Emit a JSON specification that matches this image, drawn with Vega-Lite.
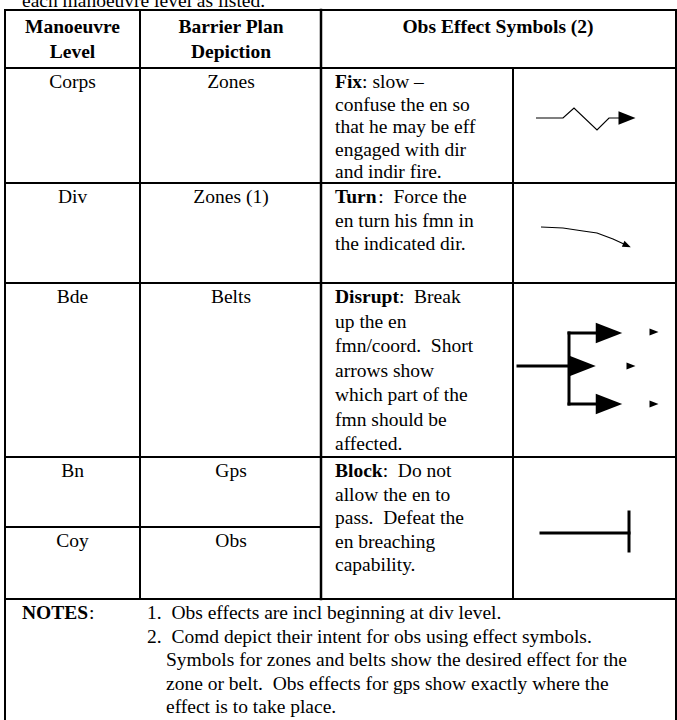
{
  "$schema": "https://vega.github.io/schema/vega-lite/v6.json",
  "width": 677,
  "height": 720,
  "padding": 0,
  "autosize": {"type": "none"},
  "background": "white",
  "config": {"view": {"stroke": null}},
  "datasets": {
    "lines": [
      {"x": 5, "y": 10, "x2": 676, "y2": 10, "kind": "grid"},
      {"x": 5, "y": 68, "x2": 676, "y2": 68, "kind": "grid"},
      {"x": 5, "y": 183, "x2": 676, "y2": 183, "kind": "grid"},
      {"x": 5, "y": 283, "x2": 676, "y2": 283, "kind": "grid"},
      {"x": 5, "y": 457, "x2": 676, "y2": 457, "kind": "grid"},
      {"x": 5, "y": 527, "x2": 321, "y2": 527, "kind": "grid"},
      {"x": 5, "y": 599, "x2": 676, "y2": 599, "kind": "grid"},
      {"x": 5, "y": 10, "x2": 5, "y2": 720, "kind": "grid"},
      {"x": 676, "y": 10, "x2": 676, "y2": 720, "kind": "grid"},
      {"x": 140, "y": 10, "x2": 140, "y2": 599, "kind": "grid"},
      {"x": 321, "y": 10, "x2": 321, "y2": 599, "kind": "heavy"},
      {"x": 513, "y": 68, "x2": 513, "y2": 599, "kind": "grid"},
      {"x": 518, "y": 366, "x2": 570, "y2": 366, "kind": "sym"},
      {"x": 569, "y": 333, "x2": 569, "y2": 404, "kind": "sym"},
      {"x": 569, "y": 333, "x2": 598, "y2": 333, "kind": "sym"},
      {"x": 569, "y": 404, "x2": 598, "y2": 404, "kind": "sym"},
      {"x": 541, "y": 533, "x2": 629, "y2": 533, "kind": "sym"},
      {"x": 629, "y": 512, "x2": 629, "y2": 551, "kind": "sym"}
    ],
    "paths": [
      {"sym": "fix", "i": 0, "x": 536, "y": 118},
      {"sym": "fix", "i": 1, "x": 563, "y": 118},
      {"sym": "fix", "i": 2, "x": 574, "y": 108},
      {"sym": "fix", "i": 3, "x": 597, "y": 130},
      {"sym": "fix", "i": 4, "x": 609, "y": 118},
      {"sym": "fix", "i": 5, "x": 622, "y": 118},
      {"sym": "turn", "i": 0, "x": 541, "y": 227},
      {"sym": "turn", "i": 1, "x": 563, "y": 228},
      {"sym": "turn", "i": 2, "x": 583, "y": 231},
      {"sym": "turn", "i": 3, "x": 597, "y": 233},
      {"sym": "turn", "i": 4, "x": 613, "y": 239},
      {"sym": "turn", "i": 5, "x": 626, "y": 245}
    ],
    "heads": [
      {"x": 627, "y": 118, "kind": "fix", "rot": 0},
      {"x": 627, "y": 245.5, "kind": "turn", "rot": 24},
      {"x": 609, "y": 333, "kind": "big", "rot": 0},
      {"x": 582, "y": 366, "kind": "mid", "rot": 0},
      {"x": 609, "y": 404, "kind": "big", "rot": 0},
      {"x": 654, "y": 332, "kind": "small", "rot": 0},
      {"x": 631, "y": 366, "kind": "small", "rot": 0},
      {"x": 654, "y": 404, "kind": "small", "rot": 0}
    ],
    "texts": [
      {"x": 22, "y": 7, "text": "each manoeuvre level as listed.", "st": "left"},
      {"x": 72.5, "y": 33, "text": "Manoeuvre", "st": "headc"},
      {"x": 72.5, "y": 58, "text": "Level", "st": "headc"},
      {"x": 231, "y": 33, "text": "Barrier Plan", "st": "headc"},
      {"x": 231, "y": 58, "text": "Depiction", "st": "headc"},
      {"x": 498, "y": 33, "text": "Obs Effect Symbols (2)", "st": "headc"},
      {"x": 72.5, "y": 88, "text": "Corps", "st": "center"},
      {"x": 72.5, "y": 203, "text": "Div", "st": "center"},
      {"x": 72.5, "y": 303, "text": "Bde", "st": "center"},
      {"x": 72.5, "y": 477, "text": "Bn", "st": "center"},
      {"x": 72.5, "y": 547, "text": "Coy", "st": "center"},
      {"x": 231, "y": 88, "text": "Zones", "st": "center"},
      {"x": 231, "y": 203, "text": "Zones (1)", "st": "center"},
      {"x": 231, "y": 303, "text": "Belts", "st": "center"},
      {"x": 231, "y": 477, "text": "Gps", "st": "center"},
      {"x": 231, "y": 547, "text": "Obs", "st": "center"},
      {"x": 335, "y": 88, "text": "Fix", "st": "bold"},
      {"x": 362.1, "y": 88, "text": ": slow –", "st": "left"},
      {"x": 335, "y": 110.5, "text": "confuse the en so", "st": "left"},
      {"x": 335, "y": 133, "text": "that he may be eff", "st": "left"},
      {"x": 335, "y": 155.5, "text": "engaged with dir", "st": "left"},
      {"x": 335, "y": 178, "text": "and indir fire.", "st": "left"},
      {"x": 335, "y": 203, "text": "Turn", "st": "bold"},
      {"x": 378.3, "y": 203, "text": ":\u00a0 Force the", "st": "left"},
      {"x": 335, "y": 226.5, "text": "en turn his fmn in", "st": "left"},
      {"x": 335, "y": 250, "text": "the indicated dir.", "st": "left"},
      {"x": 335, "y": 303, "text": "Disrupt", "st": "bold"},
      {"x": 398.9, "y": 303, "text": ":\u00a0 Break", "st": "left"},
      {"x": 335, "y": 327.5, "text": "up the en", "st": "left"},
      {"x": 335, "y": 352, "text": "fmn/coord.\u00a0 Short", "st": "left"},
      {"x": 335, "y": 376.5, "text": "arrows show", "st": "left"},
      {"x": 335, "y": 401, "text": "which part of the", "st": "left"},
      {"x": 335, "y": 425.5, "text": "fmn should be", "st": "left"},
      {"x": 335, "y": 450, "text": "affected.", "st": "left"},
      {"x": 335, "y": 477, "text": "Block", "st": "bold"},
      {"x": 382.7, "y": 477, "text": ":\u00a0 Do not", "st": "left"},
      {"x": 335, "y": 500.5, "text": "allow the en to", "st": "left"},
      {"x": 335, "y": 524, "text": "pass.\u00a0 Defeat the", "st": "left"},
      {"x": 335, "y": 547.5, "text": "en breaching", "st": "left"},
      {"x": 335, "y": 571, "text": "capability.", "st": "left"},
      {"x": 22, "y": 619, "text": "NOTES", "st": "bold"},
      {"x": 89, "y": 619, "text": ":", "st": "left"},
      {"x": 147, "y": 619, "text": "1.\u00a0 Obs effects are incl beginning at div level.", "st": "left"},
      {"x": 147, "y": 643, "text": "2.\u00a0 Comd depict their intent for obs using effect symbols.", "st": "left"},
      {"x": 166, "y": 666, "text": "Symbols for zones and belts show the desired effect for the", "st": "left"},
      {"x": 166, "y": 690, "text": "zone or belt.\u00a0 Obs effects for gps show exactly where the", "st": "left"},
      {"x": 166, "y": 713, "text": "effect is to take place.", "st": "left"}
    ]
  },
  "encoding": {
    "x": {"field": "x", "type": "quantitative", "scale": {"domain": [0, 677], "nice": false, "zero": false}, "axis": null},
    "y": {"field": "y", "type": "quantitative", "scale": {"domain": [0, 720], "nice": false, "zero": false, "reverse": true}, "axis": null}
  },
  "layer": [
    {
      "data": {"name": "lines"},
      "mark": {"type": "rule", "color": "black", "strokeCap": "square"},
      "encoding": {
        "x2": {"field": "x2"},
        "y2": {"field": "y2"},
        "strokeWidth": {"field": "kind", "type": "nominal", "scale": {"domain": ["grid", "heavy", "sym"], "range": [2, 3, 2.5]}, "legend": null}
      }
    },
    {
      "data": {"name": "paths"},
      "mark": {"type": "line", "color": "black", "strokeWidth": 1.2},
      "encoding": {
        "detail": {"field": "sym", "type": "nominal"},
        "order": {"field": "i", "type": "quantitative"}
      }
    },
    {
      "data": {"name": "heads"},
      "transform": [{"filter": "datum.kind === 'fix'"}],
      "mark": {"type": "point", "filled": true, "color": "black", "opacity": 1, "strokeWidth": 0, "size": 290, "shape": "M-1,-0.78L1,0L-1,0.78Z"},
      "encoding": {}
    },
    {
      "data": {"name": "heads"},
      "transform": [{"filter": "datum.kind === 'turn'"}],
      "mark": {"type": "point", "filled": true, "color": "black", "opacity": 1, "strokeWidth": 0, "size": 70, "angle": 24, "shape": "M-1,-0.78L1,0L-1,0.78Z"},
      "encoding": {}
    },
    {
      "data": {"name": "heads"},
      "transform": [{"filter": "datum.kind === 'big'"}],
      "mark": {"type": "point", "filled": true, "color": "black", "opacity": 1, "strokeWidth": 0, "size": 700, "shape": "M-1,-0.78L1,0L-1,0.78Z"},
      "encoding": {}
    },
    {
      "data": {"name": "heads"},
      "transform": [{"filter": "datum.kind === 'mid'"}],
      "mark": {"type": "point", "filled": true, "color": "black", "opacity": 1, "strokeWidth": 0, "size": 760, "shape": "M-1,-0.78L1,0L-1,0.78Z"},
      "encoding": {}
    },
    {
      "data": {"name": "heads"},
      "transform": [{"filter": "datum.kind === 'small'"}],
      "mark": {"type": "point", "filled": true, "color": "black", "opacity": 1, "strokeWidth": 0, "size": 80, "shape": "M-1,-0.78L1,0L-1,0.78Z"},
      "encoding": {}
    },
    {
      "data": {"name": "texts"},
      "transform": [{"filter": "datum.st === 'left'"}],
      "mark": {"type": "text", "align": "left", "baseline": "alphabetic", "font": "Liberation Serif", "fontSize": 19.5, "color": "black"},
      "encoding": {"text": {"field": "text"}}
    },
    {
      "data": {"name": "texts"},
      "transform": [{"filter": "datum.st === 'bold'"}],
      "mark": {"type": "text", "align": "left", "baseline": "alphabetic", "font": "Liberation Serif", "fontSize": 19.5, "fontWeight": "bold", "color": "black"},
      "encoding": {"text": {"field": "text"}}
    },
    {
      "data": {"name": "texts"},
      "transform": [{"filter": "datum.st === 'center'"}],
      "mark": {"type": "text", "align": "center", "baseline": "alphabetic", "font": "Liberation Serif", "fontSize": 19.5, "color": "black"},
      "encoding": {"text": {"field": "text"}}
    },
    {
      "data": {"name": "texts"},
      "transform": [{"filter": "datum.st === 'headc'"}],
      "mark": {"type": "text", "align": "center", "baseline": "alphabetic", "font": "Liberation Serif", "fontSize": 19.5, "fontWeight": "bold", "color": "black"},
      "encoding": {"text": {"field": "text"}}
    }
  ]
}
